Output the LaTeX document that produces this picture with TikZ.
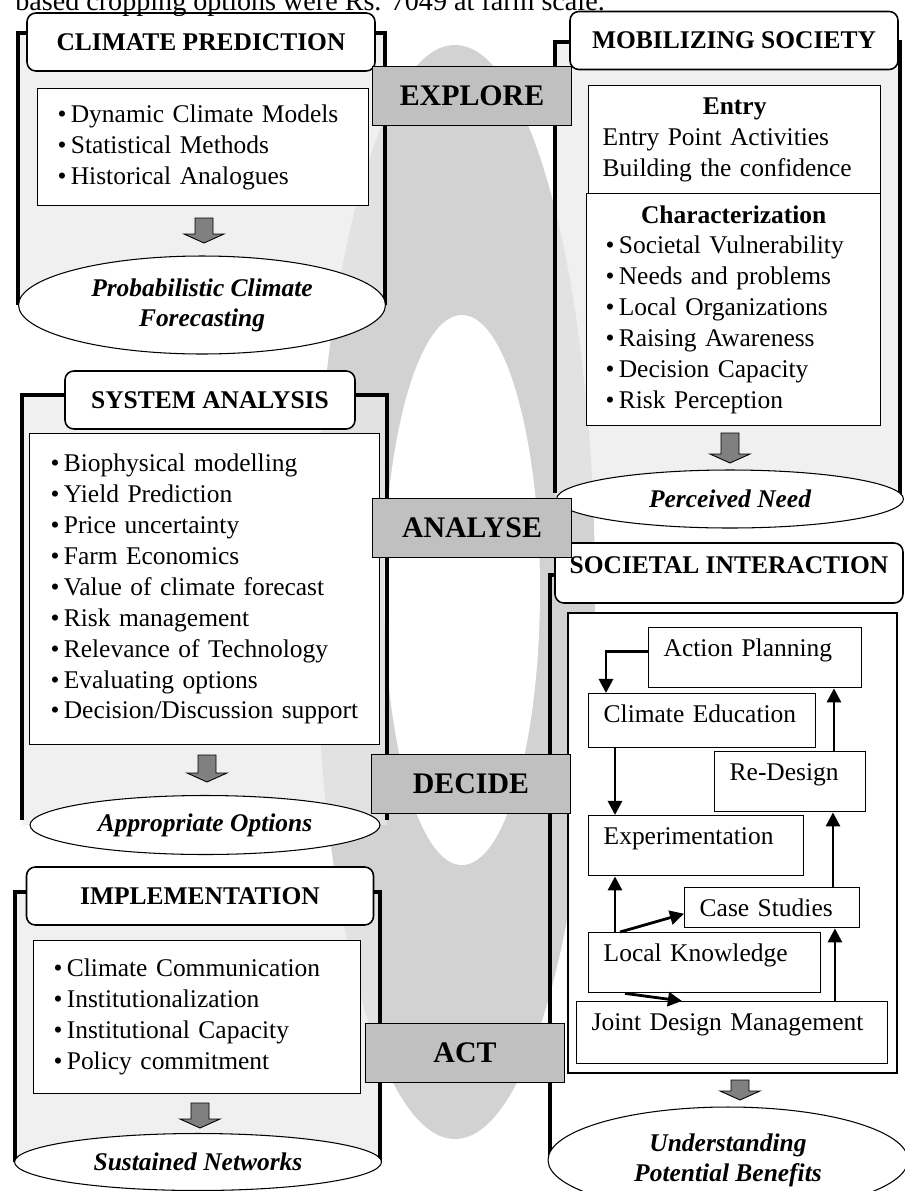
\documentclass[tikz,border=0pt]{standalone}
\usepackage{fontspec}
\setmainfont{Liberation Serif}
\usetikzlibrary{arrows.meta,positioning,calc,shapes.geometric}
\definecolor{stagegray}{HTML}{C0C0C0}
\definecolor{haze}{HTML}{D2D2D2}
\definecolor{stipple}{HTML}{EAEAEA}
\definecolor{droparrow}{HTML}{808080}

\begin{document}
\begin{tikzpicture}[x=0.02cm, y=-0.02cm,
  every node/.style={font=\fontsize{14.5}{17.6}\selectfont},
  wall/.style={line width=2.2pt},
  body/.style={fill=stipple, fill opacity=.7},
  tab/.style={draw, line width=0.9pt, fill=white, rounded corners=5pt, minimum height=1.16cm,
              inner sep=0pt, font=\fontsize{14.5}{17.6}\selectfont\bfseries},
  listbox/.style={draw, line width=0.8pt, fill=white, anchor=north west, align=left, inner ysep=0pt},
  outcome/.style={ellipse, draw, line width=0.6pt, fill=white, inner sep=0pt, align=center,
                  font=\fontsize{14.5}{17}\selectfont\bfseries\itshape},
  stage/.style={draw, line width=0.8pt, fill=stagegray, minimum width=3.98cm, minimum height=1.18cm,
                font=\fontsize{17}{20}\selectfont\bfseries},
  stepbox/.style={draw, line width=0.8pt, fill=white, anchor=north west, align=left,
                  inner xsep=0.3cm, inner ysep=0pt, text height=0.58cm},
  flowarr/.style={-{Triangle[length=8pt, width=8pt]}, line width=1.6pt},
  droparr/.style={draw, line width=0.5pt, fill=droparrow}
]
  \useasboundingbox (0,0) rectangle (904,1191);

  % central band behind the stages
  \fill[haze] (455,592) ellipse [x radius=140, y radius=547];
  \fill[white] (462,590) ellipse [x radius=78, y radius=275];

  % cylinder bodies
  \fill[body] (18,33) rectangle (385,305);
  \fill[body] (22,395) rectangle (387,825);
  \fill[body] (15,892) rectangle (380,1162);
  \fill[body] (555,42) rectangle (900,499);

  \draw[wall] (40,33) -| (18,305);   \draw[wall] (365,33) -| (385,305);
  \draw[wall] (80,395) -| (22,820);  \draw[wall] (340,395) -| (387,820);
  \draw[wall] (40,892) -| (15,1162); \draw[wall] (360,892) -| (380,1162);
  \draw[wall] (590,42) -| (555,493); \draw[wall] (880,42) -| (900,499);
  \draw[wall] (570,575) -| (550,1160);

  % left column
  \node[tab, minimum width=6.96cm] (cptab) at (201,42) {CLIMATE PREDICTION};
  \node[listbox, inner xsep=0.4cm, text width=5.82cm, minimum height=2.34cm] (cplist) at (37,88)
    {\textbullet\,Dynamic Climate Models\\\textbullet\,Statistical Methods\\\textbullet\,Historical Analogues};
  \node[outcome, minimum width=7.34cm, minimum height=1.96cm] (cpout) at (202,305)
    {Probabilistic Climate\\Forecasting};

  \node[tab, minimum width=5.8cm] (satab) at (210,400) {SYSTEM ANALYSIS};
  \node[listbox, inner xsep=0.42cm, text width=6.16cm, minimum height=6.22cm] (salist) at (29,433)
    {\textbullet\,Biophysical modelling\\\textbullet\,Yield Prediction\\\textbullet\,Price uncertainty\\
     \textbullet\,Farm Economics\\\textbullet\,Value of climate forecast\\\textbullet\,Risk management\\
     \textbullet\,Relevance of Technology\\\textbullet\,Evaluating options\\\textbullet\,Decision/Discussion support};
  \node[outcome, minimum width=7cm, minimum height=1.18cm] (saout) at (205,825) {Appropriate Options};

  \node[tab, minimum width=6.94cm] (imptab) at (200,896) {IMPLEMENTATION};
  \node[listbox, inner xsep=0.4cm, text width=5.74cm, minimum height=3.06cm] (implist) at (33,940)
    {\textbullet\,Climate Communication\\\textbullet\,Institutionalization\\
     \textbullet\,Institutional Capacity\\\textbullet\,Policy commitment};
  \node[outcome, minimum width=7.34cm, minimum height=1.14cm] (impout) at (198,1162) {Sustained Networks};

  % right column
  \node[tab, minimum width=6.56cm] (mstab) at (734,40.5) {MOBILIZING SOCIETY};
  \node[listbox, inner xsep=0.28cm, text width=5.28cm, minimum height=2.16cm] (msentry) at (588,85)
    {\makebox[5.28cm][c]{\textbf{Entry}}\\Entry Point Activities\\Building the confidence};
  \node[listbox, inner xsep=0.38cm, text width=5.12cm, minimum height=4.64cm] (mschar) at (586,193)
    {\makebox[5.12cm][c]{\textbf{Characterization}}\\\textbullet\,Societal Vulnerability\\
     \textbullet\,Needs and problems\\\textbullet\,Local Organizations\\\textbullet\,Raising Awareness\\
     \textbullet\,Decision Capacity\\\textbullet\,Risk Perception};
  \node[outcome, minimum width=6.94cm, minimum height=1.16cm] (msout) at (730,499) {Perceived Need};

  \node[tab, minimum width=6.96cm, minimum height=1.2cm, text depth=0.3cm] (sitab) at (729,573)
    {SOCIETAL INTERACTION};
  \draw[line width=0.8pt, fill=white] (568,613) rectangle (897,1073);
  \node[stepbox, text width=3.66cm, text depth=0.62cm] (plan) at (648,627) {Action Planning};
  \node[stepbox, text width=3.94cm, text depth=0.5cm] (educ) at (588,693) {Climate Education};
  \node[stepbox, text width=2.42cm, text depth=0.62cm] (redes) at (714,751) {Re-Design};
  \node[stepbox, text width=3.7cm, text depth=0.62cm] (exper) at (588,815) {Experimentation};
  \node[stepbox, text width=2.9cm, text depth=0.22cm] (cases) at (684,887) {Case Studies};
  \node[stepbox, text width=4.04cm, text depth=0.62cm] (local) at (588,932) {Local Knowledge};
  \node[stepbox, text width=5.62cm, text depth=0.66cm] (joint) at (576,1001) {Joint Design Management};

  \draw[flowarr] ([yshift=0.12cm]plan.west) -| ([xshift=0.36cm]educ.north west);
  \draw[flowarr] ([xshift=0.54cm]educ.south west) -- ([xshift=0.54cm]exper.north west);
  \draw[flowarr] ([xshift=2.4cm]redes.north west) -- ([xshift=2.4cm]redes.north west |- plan.south);
  \draw[flowarr] ([xshift=2.98cm]cases.north west) -- ([xshift=2.98cm]cases.north west |- redes.south);
  \draw[flowarr] ([xshift=0.54cm]local.north west) -- ([xshift=0.54cm]exper.south west);
  \draw[flowarr] ([xshift=0.64cm]local.north west) -- ([yshift=-0.12cm]cases.west);
  \draw[flowarr] ([xshift=5.18cm]joint.north west) -- ([xshift=5.18cm]joint.north west |- cases.south);
  \draw[flowarr] ([xshift=0.74cm]local.south west) -- ([xshift=2.12cm]joint.north west);

  \node[outcome, minimum width=7.2cm, minimum height=2.12cm] (siout) at (728,1160)
    {Understanding\\Potential Benefits};

  % block arrows down to the outcomes
  \foreach \ax/\ay/\al in {204/218/25, 207/755/27, 200/1103/25, 730/433/30, 740/1080/20}
    \draw[droparr] (\ax-9,\ay) -- (\ax+9,\ay) -- (\ax+9,\ay+\al-9) -- (\ax+20,\ay+\al-9)
      -- (\ax,\ay+\al) -- (\ax-20,\ay+\al-9) -- (\ax-9,\ay+\al-9) -- cycle;

  % stages
  \node[stage] (explore) at (472,96) {EXPLORE};
  \node[stage] (analyse) at (472,528) {ANALYSE};
  \node[stage] (decide) at (471,784) {DECIDE};
  \node[stage] (act) at (465,1053) {ACT};

  \begin{scope}
    \clip (0,0) rectangle (904,1191);
    \node[anchor=base west, inner sep=0pt, font=\fontsize{16}{19}\selectfont] (pageline) at (15,10)
      {based cropping options were Rs. 7049 at farm scale.};
  \end{scope}
\end{tikzpicture}
\end{document}
